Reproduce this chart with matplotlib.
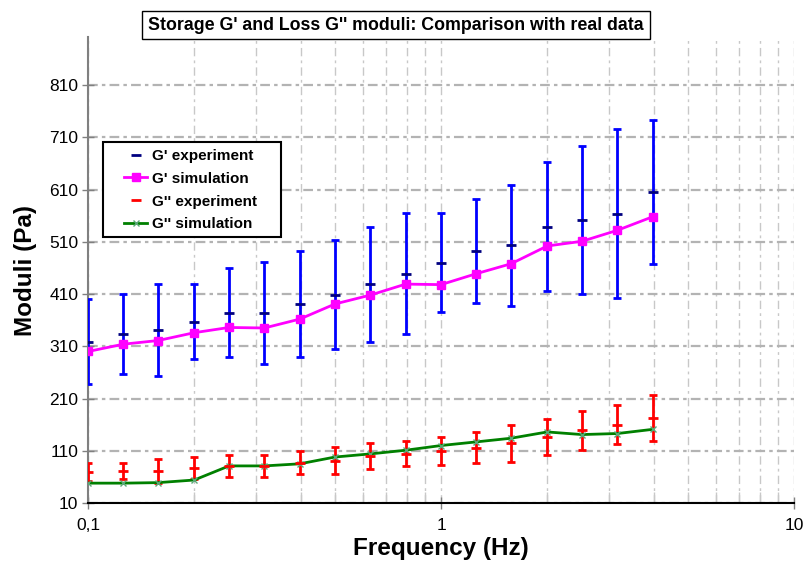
import numpy as np
import matplotlib
matplotlib.use("Agg")
import matplotlib.pyplot as plt
from matplotlib.lines import Line2D
from matplotlib.patches import Rectangle
from matplotlib.legend_handler import HandlerLine2D
from matplotlib.ticker import FixedLocator, FuncFormatter, LogLocator, NullFormatter

plt.rcParams['font.family'] = ['Liberation Sans', 'DejaVu Sans']
plt.rcParams['lines.scale_dashes'] = False

# frequencies (Hz)
freq = [0.1, 0.126, 0.158, 0.2, 0.251, 0.316, 0.398, 0.501, 0.631, 0.794,
        1.0, 1.26, 1.58, 2.0, 2.51, 3.16, 3.98]

# storage modulus G'
g1_exp = [319, 333, 341, 357, 374, 374, 391, 409, 429, 449,
          470, 492, 503, 539, 552, 564, 605]
g1_err = [82, 77, 88, 72, 85, 97, 101, 105, 110, 116,
          95, 99, 115, 124, 142, 162, 138]
g1_sim = [300, 314, 321, 336, 346, 345, 362, 391, 408, 429,
          428, 449, 468, 502, 511, 532, 558]

# loss modulus G''
g2_exp = [70, 71, 72, 77, 80, 81, 87, 91, 100, 104,
          109, 116, 124, 136, 149, 160, 172]
g2_err = [17, 16, 23, 22, 21, 21, 22, 26, 25, 24,
          27, 30, 35, 35, 38, 37, 44]
g2_sim = [48, 48, 49, 54, 81, 81, 85, 98, 104, 111,
          120, 127, 134, 146, 141, 143, 151]

y_ticks = list(range(10, 811, 100))

W, H = 806, 563
fig = plt.figure(figsize=(W / 100, H / 100), dpi=100)
ax = fig.add_axes([88 / W, 1 - 503 / H, 706 / W, 466 / H])

ax.set_xscale('log')
ax.set_xlim(0.1, 10)
ax.set_ylim(10, 902)

# experiments with error bars
ax.errorbar(freq, g1_exp, yerr=g1_err, fmt='none', ecolor='#0000ff',
            elinewidth=2, capsize=3, capthick=2, zorder=3)
ax.plot(freq, g1_exp, ls='none', marker='_', ms=7, mew=2, color='#000080', zorder=5)
ax.errorbar(freq, g2_exp, yerr=g2_err, fmt='none', ecolor='#ff0000',
            elinewidth=2, capsize=3, capthick=2, zorder=3)
ax.plot(freq, g2_exp, ls='none', marker='_', ms=7, mew=2, color='#ff0000', zorder=5)

# simulations
ax.plot(freq, g1_sim, color='#ff00ff', lw=2, marker='s', ms=6, zorder=4)
ax.plot(freq, g2_sim, color='#008000', lw=2, marker='x', ms=4, mew=1,
        mec='#5aa878', zorder=4)

# grid
ax.set_yticks(y_ticks)
ax.yaxis.grid(True, color='#b3b3b3', lw=1.6, dashes=(7, 3, 2.5, 3))
ax.xaxis.set_major_locator(FixedLocator([0.1, 1, 10]))
ax.xaxis.set_minor_locator(LogLocator(base=10, subs=np.arange(2, 10)))
ax.xaxis.set_minor_formatter(NullFormatter())
ax.xaxis.set_major_formatter(FuncFormatter(lambda v, p: {0.1: '0,1', 1: '1', 10: '10'}.get(round(v, 3), '')))
ax.xaxis.grid(True, which='both', color='#c8c8c8', lw=1, dashes=(6, 3, 2, 3))
ax.set_axisbelow(True)

for s in ['top', 'right']:
    ax.spines[s].set_visible(False)
ax.spines['left'].set_color('#808080')
ax.spines['left'].set_linewidth(1.5)
ax.spines['bottom'].set_color('black')
ax.spines['bottom'].set_linewidth(1.5)

ax.tick_params(axis='y', direction='inout', length=8, width=1, color='#808080', labelsize=12.5, pad=3)
ax.tick_params(axis='x', which='major', direction='inout', length=8, width=1, color='#808080',
               labelsize=12.5, pad=7)
ax.tick_params(axis='x', which='minor', direction='in', length=8, width=1, color='#c8c8c8')

ax.set_xlabel('Frequency (Hz)', fontsize=17.5, fontweight='bold', labelpad=3)
ax.set_ylabel('Moduli (Pa)', fontsize=17.5, fontweight='bold', labelpad=9)

fig.text(0.4915, 1 - 25 / H, "Storage G' and Loss G'' moduli: Comparison with real data",
         ha='center', va='center', fontsize=12.8, fontweight='bold',
         bbox=dict(boxstyle='square,pad=0.33', fc='white', ec='black', lw=1))

# legend box
ax.add_patch(Rectangle((103 / W, 1 - 237 / H), 178 / W, 95 / H, transform=fig.transFigure,
                       fc='white', ec='black', lw=1.5, zorder=10, clip_on=False))
handles = [
    Line2D([], [], ls='none', marker='_', ms=7, mew=2, color='#000080'),
    Line2D([], [], color='#ff00ff', lw=2, marker='s', ms=6),
    Line2D([], [], ls='none', marker='_', ms=7, mew=2, color='#ff0000'),
    Line2D([], [], color='#008000', lw=2, marker='x', ms=4, mec='#5aa878'),
]
labels = ["G' experiment", "G' simulation", "G'' experiment", "G'' simulation"]
leg = ax.legend(handles, labels, loc='upper left', bbox_to_anchor=(0.021, 0.773),
                borderaxespad=0, frameon=False,
                prop={'weight': 'bold', 'size': 11}, handlelength=2.5,
                handletextpad=0.3, labelspacing=0.58, borderpad=0.4,
                handler_map={Line2D: HandlerLine2D(xpad=1.0)})
leg.set_zorder(11)

fig.savefig('out.png', dpi=100)
